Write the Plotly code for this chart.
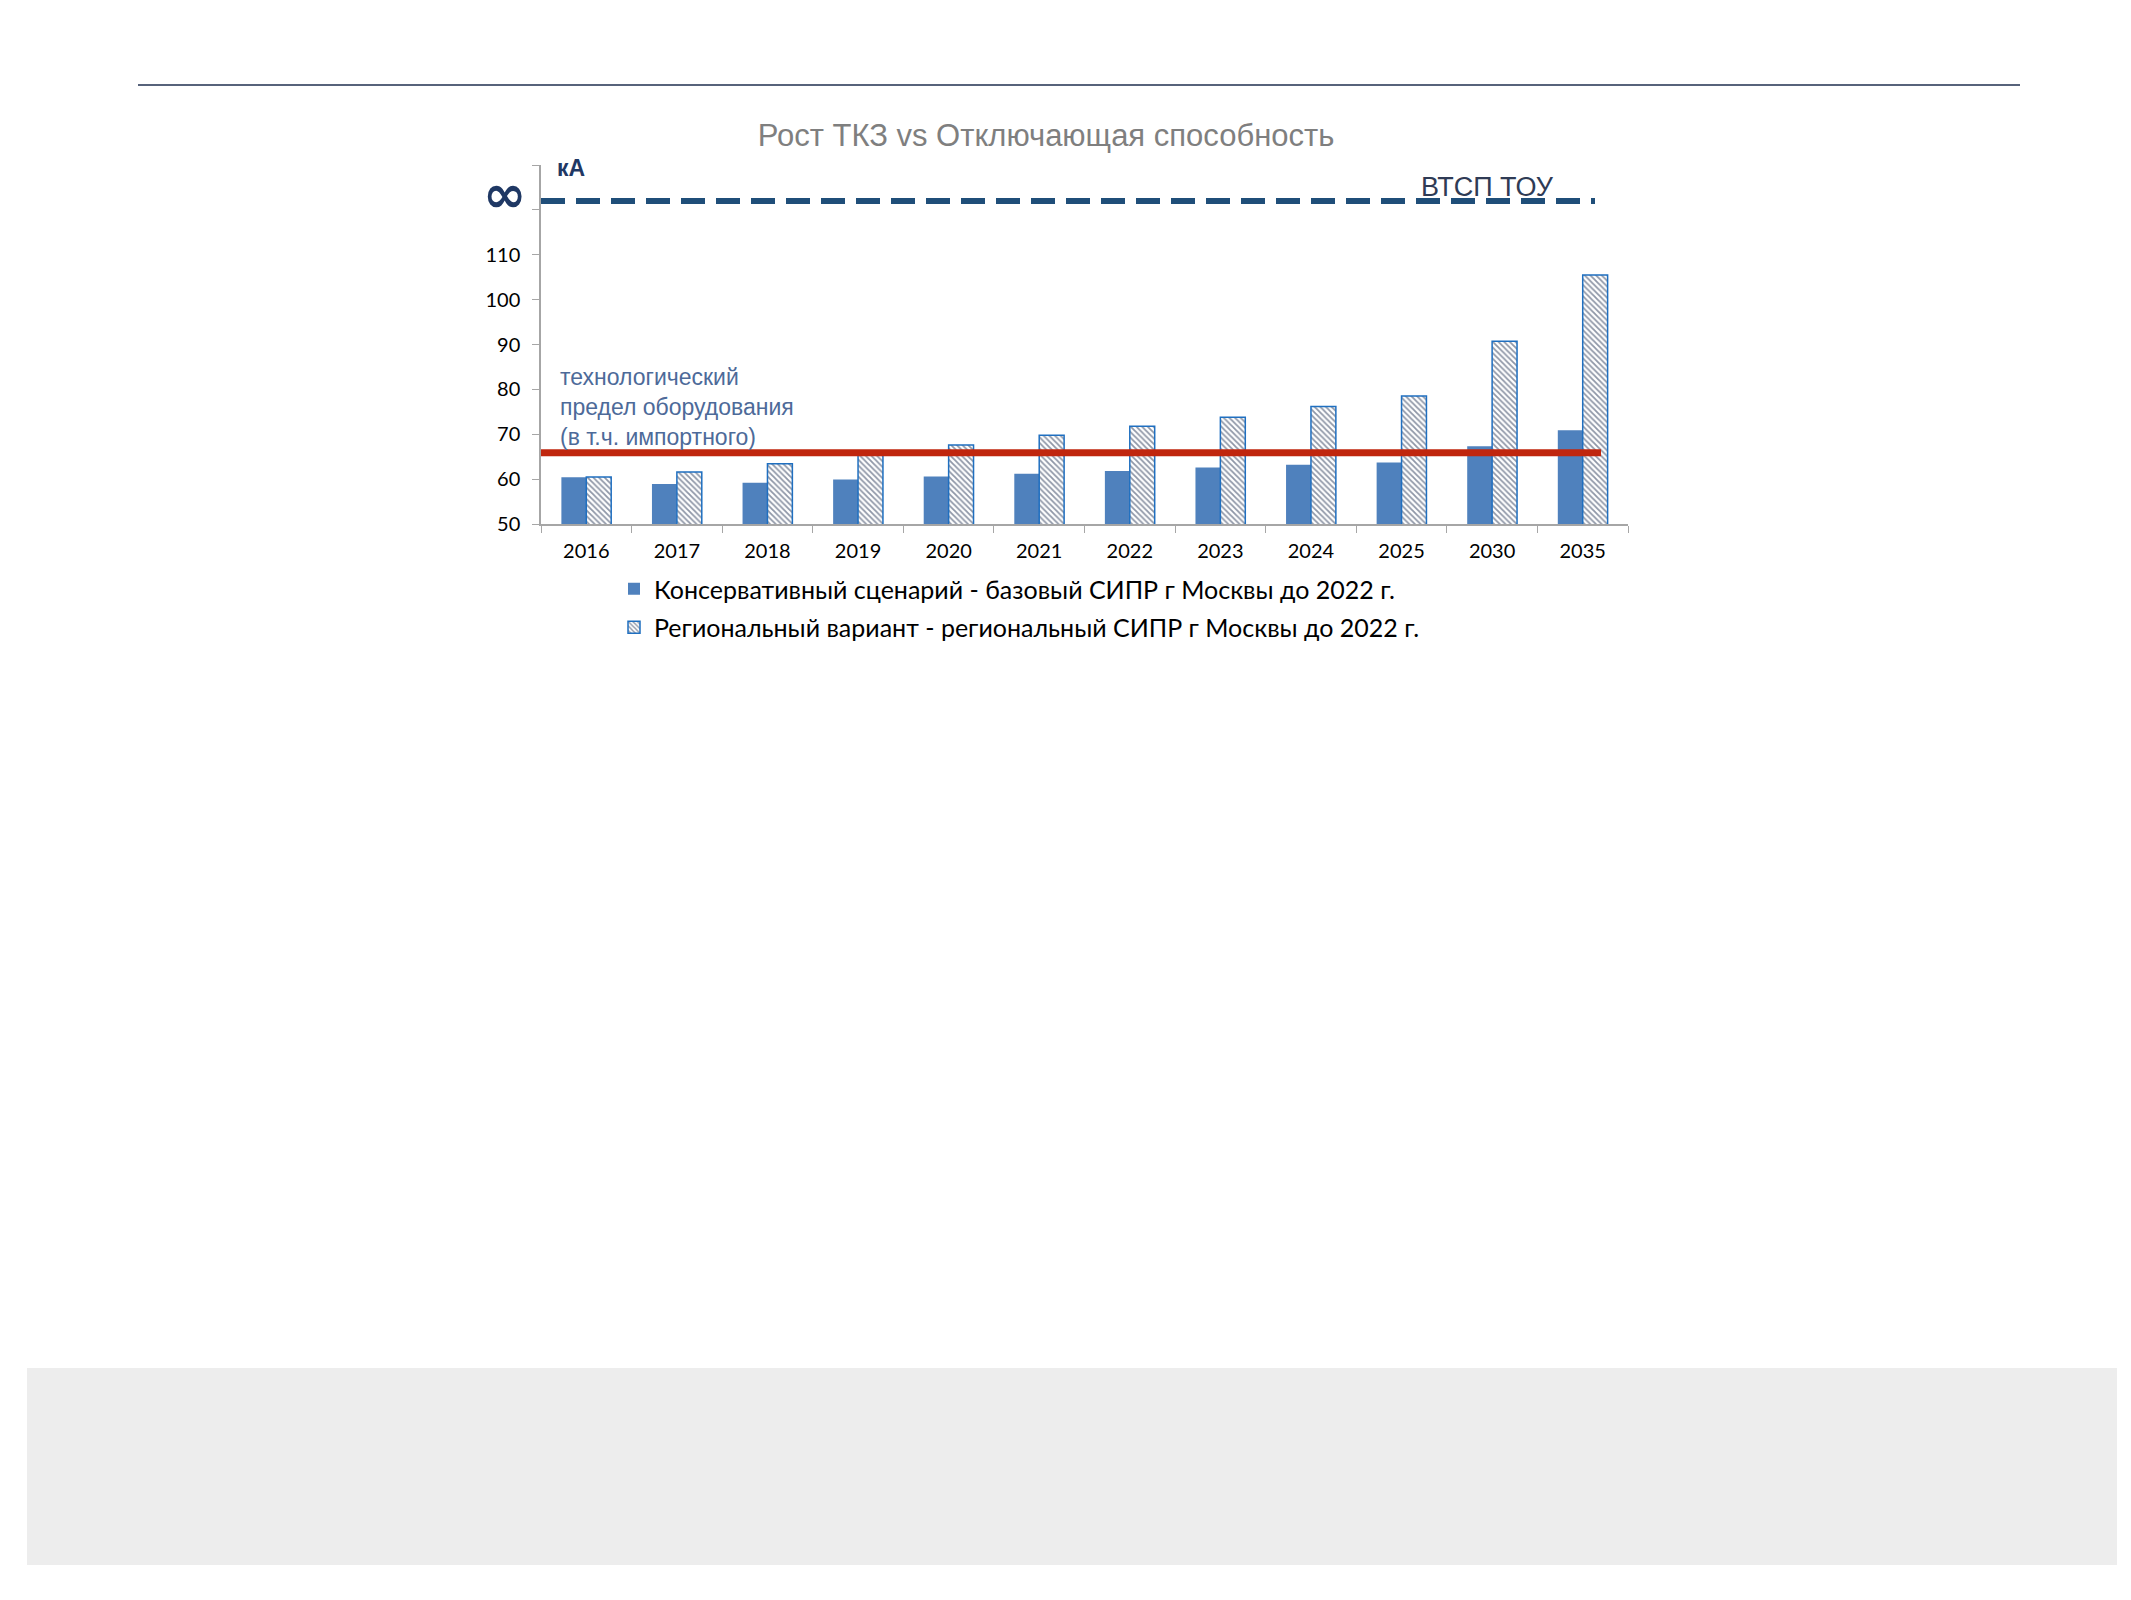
import plotly.graph_objs as go

years = ['2016', '2017', '2018', '2019', '2020', '2021', '2022', '2023', '2024', '2025', '2030', '2035']
conservative = [60.4, 58.9, 59.2, 59.9, 60.6, 61.2, 61.8, 62.6, 63.2, 63.7, 67.3, 70.9]
regional = [60.5, 61.6, 63.4, 65.5, 67.6, 69.8, 71.8, 73.8, 76.2, 78.5, 90.7, 105.5]
tech_limit = 65.9
htsc_level = 122
y_ticks = [50, 60, 70, 80, 90, 100, 110, 120, 130]
y_ticktext = ['50', '60', '70', '80', '90', '100', '110', '', '']

W, H = 2131, 1600
L, R, T, B = 533, 511, 157, 1084
PW, PH = W - L - R, H - T - B


def px(x):  # пиксели -> paper
    return (x - L) / PW


def py(y):
    return (H - B - y) / PH


fig = go.Figure()
fig.add_trace(go.Bar(x=years, y=conservative,
                     name='Консервативный сценарий - базовый СИПР г Москвы до 2022 г.',
                     marker=dict(color='#4F81BD', line=dict(width=0)),
                     legendgroup='a'))
fig.add_trace(go.Bar(x=years, y=regional,
                     name='Региональный вариант - региональный СИПР г Москвы до 2022 г.',
                     marker=dict(color='white', line=dict(color='#1F6FC0', width=1.5),
                                 pattern=dict(shape='\\', fgcolor='#1F2F50', bgcolor='white',
                                              size=4, solidity=0.45)),
                     legendgroup='b'))

# линии уровней
fig.add_shape(type='line', xref='paper', yref='y', x0=0, x1=px(1587), y0=htsc_level, y1=htsc_level,
              line=dict(color='#1F4E79', width=6, dash='24px,11px'))
fig.add_shape(type='line', xref='paper', yref='y', x0=0, x1=px(1593), y0=tech_limit, y1=tech_limit,
              line=dict(color='#C0260E', width=7))
# оформление страницы
fig.add_shape(type='line', xref='paper', yref='paper', x0=px(130), x1=px(2012), y0=py(77), y1=py(77),
              line=dict(color='#1F2F4F', width=1.5))
fig.add_shape(type='rect', xref='paper', yref='paper', x0=px(19), x1=px(2109), y0=py(1360), y1=py(1557),
              fillcolor='#EDEDED', line=dict(width=0), layer='below')

fig.add_annotation(x=px(496), y=py(186), xref='paper', yref='paper', text='<b>∞</b>', showarrow=False,
                   xanchor='center', yanchor='middle',
                   font=dict(family='DejaVu Sans', size=52, color='#1F3864'))
fig.add_annotation(x=px(547), y=py(160), xref='paper', yref='paper', text='<b>кА</b>', showarrow=False,
                   xanchor='left', yanchor='middle',
                   font=dict(family='Liberation Sans', size=23, color='#1F3864'))
fig.add_annotation(x=px(1479), y=py(179), xref='paper', yref='paper', text='ВТСП ТОУ', showarrow=False,
                   xanchor='center', yanchor='middle',
                   font=dict(family='Liberation Sans', size=27, color='#2F3B55'))
fig.add_annotation(x=px(550), y=py(399), xref='paper', yref='paper',
                   text='технологический<br>предел оборудования<br>(в т.ч. импортного)',
                   showarrow=False, xanchor='left', yanchor='middle', align='left',
                   font=dict(family='Liberation Sans', size=23, color='#4D6A99'))

fig.update_layout(
    width=W, height=H,
    margin=dict(l=L, r=R, t=T, b=B),
    paper_bgcolor='white', plot_bgcolor='white',
    barmode='group', bargap=0.45, bargroupgap=0,
    title=dict(text='Рост ТКЗ vs Отключающая способность', xref='container', x=1038 / W, xanchor='center',
               y=1 - 127 / H, yanchor='middle',
               font=dict(family='Liberation Sans', size=31, color='#7F7F7F')),
    legend=dict(x=px(606), y=py(558), xanchor='left', yanchor='top', orientation='v',
                tracegroupgap=3, font=dict(family='Lato', size=25, color='black'),
                bgcolor='rgba(0,0,0,0)'),
    showlegend=True,
)
fig.update_xaxes(showline=True, linecolor='#A6A6A6', linewidth=1.5, ticks='outside', tickson='boundaries',
                 ticklen=7, tickcolor='#A6A6A6', showgrid=False, ticklabelstandoff=8,
                 tickfont=dict(family='Lato', size=20, color='black'))
fig.update_yaxes(range=[50, 130], tickvals=y_ticks, ticktext=y_ticktext, showline=True,
                 linecolor='#A6A6A6', linewidth=1.5, ticks='outside', ticklen=7, tickcolor='#A6A6A6',
                 showgrid=False, zeroline=False, ticklabelstandoff=8,
                 tickfont=dict(family='Lato', size=20, color='black'))

fig.write_html("out.html")
